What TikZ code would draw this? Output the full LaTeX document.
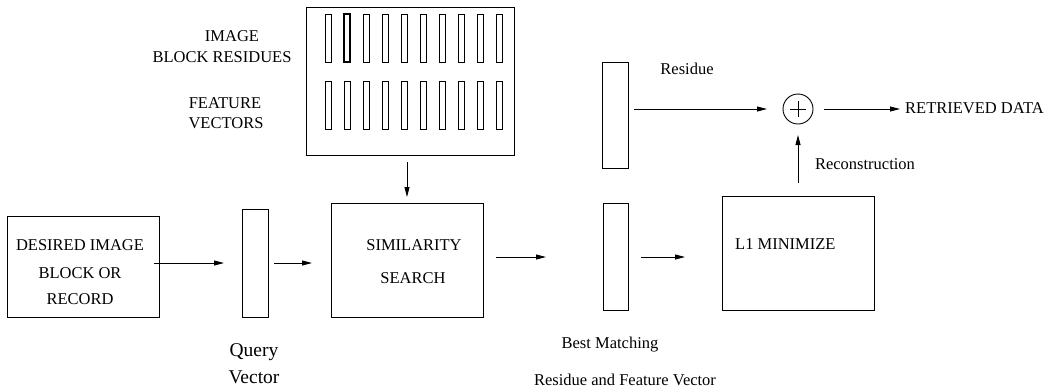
\documentclass[tikz,border=0pt]{standalone}
\usepackage{fontspec}
\setmainfont{Liberation Serif}
\usetikzlibrary{arrows.meta}
\begin{document}
\begin{tikzpicture}[x=1pt,y=-1pt,
  box/.style={draw, line width=0.9pt, inner sep=0pt, rectangle},
  bar/.style={draw, line width=0.8pt, inner sep=0pt, rectangle, minimum width=6pt, minimum height=48pt},
  arr/.style={line width=0.9pt, -{Triangle[length=10pt,width=5pt]}},
  lbl/.style={font=\fontsize{16.5}{20}\selectfont, inner sep=0pt},
  big/.style={font=\fontsize{19.5}{23}\selectfont, inner sep=0pt}]
\useasboundingbox (0,0) rectangle (1063,389);

% database box with feature vectors
\node[box, minimum width=208pt, minimum height=148pt] (db) at (410,81) {};
\foreach \i in {0,...,9} {
  \node[bar] (r\i) at (328+19*\i,38) {};
  \node[bar] (f\i) at (328+19*\i,105) {};
}
\node[bar, line width=1.3pt] (r1b) at (347,38) {};
\node[lbl] (l1) at (232,36) {IMAGE};
\node[lbl] (l2) at (222,57) {BLOCK RESIDUES};
\node[lbl] (l3) at (225,103) {FEATURE};
\node[lbl] (l4) at (226,123) {VECTORS};

% main row
\node[box, minimum width=152pt, minimum height=101pt] (desired) at (83,266.5) {};
\node[lbl] (d1) at (80,245) {DESIRED IMAGE};
\node[lbl] (d2) at (80,273) {BLOCK OR};
\node[lbl] (d3) at (80,299) {RECORD};

\node[box, minimum width=26pt, minimum height=108pt] (query) at (255,263) {};
\node[big] (q1) at (254,352) {Query};
\node[big] (q2) at (254,377) {Vector};

\node[box, minimum width=152pt, minimum height=114pt] (sim) at (407,260) {};
\node[lbl] (s1) at (414,245) {SIMILARITY};
\node[lbl] (s2) at (413,278) {SEARCH};

\node[box, minimum width=26pt, minimum height=106pt] (resU) at (615,115) {};
\node[box, minimum width=25pt, minimum height=107pt] (resL) at (615.5,256.5) {};
\node[lbl] (bm1) at (610,345) {Best Matching};
\node[lbl] (bm2) at (625,380) {Residue and Feature Vector};

\node[box, minimum width=152pt, minimum height=114pt] (l1m) at (798,253) {};
\node[lbl, anchor=west] (l1t) at (735,244) {L1 MINIMIZE};

\node[draw, circle, line width=0.9pt, minimum size=30pt, inner sep=0pt] (plus) at (798,109) {};
\draw[line width=0.7pt] ([xshift=-8pt]plus.center) -- ([xshift=8pt]plus.center);
\draw[line width=0.7pt] ([yshift=-8pt]plus.center) -- ([yshift=8pt]plus.center);

\node[lbl] (resl) at (687,69) {Residue};
\node[lbl] (recl) at (865,164) {Reconstruction};
\node[lbl, anchor=west] (out) at (905,108) {RETRIEVED DATA};

% arrow end points
\coordinate (a1s) at (154,263); \coordinate (a1e) at (224,263);
\coordinate (a2s) at (274,263); \coordinate (a2e) at (312,263);
\coordinate (a3s) at (407,162); \coordinate (a3e) at (407,197);
\coordinate (a4s) at (496,257); \coordinate (a4e) at (546,257);
\coordinate (a5s) at (641,257); \coordinate (a5e) at (685,257);
\coordinate (a6s) at (634,109); \coordinate (a6e) at (767,109);
\coordinate (a7s) at (824,109); \coordinate (a7e) at (900,109);
\coordinate (a8s) at (798,183); \coordinate (a8e) at (798,135);

\draw[arr] (a1s) -- (a1e);
\draw[arr] (a2s) -- (a2e);
\draw[arr] (a3s) -- (a3e);
\draw[arr] (a4s) -- (a4e);
\draw[arr] (a5s) -- (a5e);
\draw[arr] (a6s) -- (a6e);
\draw[arr] (a7s) -- (a7e);
\draw[arr] (a8s) -- (a8e);
\end{tikzpicture}
\end{document}
